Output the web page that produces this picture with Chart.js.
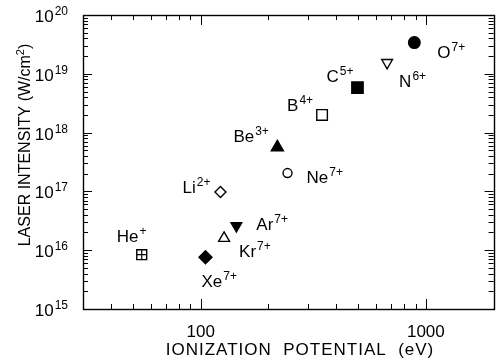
<!DOCTYPE html>
<html><head><meta charset="utf-8">
<script src="https://cdn.jsdelivr.net/npm/chart.js@4/dist/chart.umd.min.js"></script>
<style>html,body{margin:0;padding:0;background:#fff}#wrap{width:503px;height:363px}</style>
</head><body><div id="wrap"><canvas id="c" width="503" height="363"></canvas></div>
<script>
// ---- data ----
const ions = ['He','Xe','Kr','Ar','Li','Be','Ne','B','C','N','O'];
const charges = ['+','7+','7+','7+','2+','3+','7+','4+','5+','6+','7+'];
const ionizationPotentialEV = [54.7,105,127,144,122.4,219,243,346,497,673,889];
const laserIntensity = [8.4e15,7.6e15,1.6e16,2.6e16,9.8e16,5.6e17,2.05e17,2.0e18,5.8e18,1.55e19,3.4e19];
const xTickLabels = [100,1000];
const yTickExponents = [15,16,17,18,19,20];

// ---- styles (not data) ----
const markerStyle = ['rect','rectRot','triangle','triangle','rectRot','triangle','circle','rect','rect','triangle','circle'];
const markerRotation = [0,0,0,180,0,0,0,0,0,180,0];
const markerFilled = [false,true,false,true,false,true,false,false,true,false,true];
const markerRadius = [7,6.5,6.3,6.2,5.5,7,4.5,7.5,8,6.2,5.8];
// [align, dx, dy] from marker centre to label baseline
const labelPlace = [
  ['left',-25,-13],['left',-4,30],['left',15,19],['left',20,4],['right',-10,1],
  ['right',-8.5,-5.5],['left',19,10],['right',-9,-4],['right',-4,-6],['left',12,24],['left',23,15]
];
const FONT = "'Liberation Sans', Arial, Helvetica, sans-serif";

function drawSup(ctx, base, sup, x, y, align, bSize, sSize, rise) {
  ctx.font = bSize + 'px ' + FONT; const wb = ctx.measureText(base).width;
  ctx.font = sSize + 'px ' + FONT; const ws = ctx.measureText(sup).width;
  const gap = 1, total = wb + gap + ws;
  const sx = align === 'right' ? x - total : (align === 'center' ? x - total / 2 : x);
  ctx.textAlign = 'left'; ctx.textBaseline = 'alphabetic';
  ctx.font = bSize + 'px ' + FONT; ctx.fillText(base, sx, y);
  ctx.font = sSize + 'px ' + FONT; ctx.fillText(sup, sx + wb + gap, y - rise);
}

const decor = {
  id: 'decor',
  afterDraw(chart) {
    const ctx = chart.ctx, xs = chart.scales.x, ys = chart.scales.y, a = chart.chartArea;
    ctx.save();
    ctx.strokeStyle = '#000'; ctx.fillStyle = '#000';
    ctx.lineWidth = 1.4;
    ctx.strokeRect(Math.round(a.left) + 0.5, Math.round(a.top) + 0.5, Math.round(a.right - a.left), Math.round(a.bottom - a.top));
    ctx.lineWidth = 1;
    ctx.beginPath();
    const lx0 = Math.floor(Math.log10(xs.min)), lx1 = Math.ceil(Math.log10(xs.max));
    for (let e = lx0; e <= lx1; e++) for (let m = 1; m <= 9; m++) {
      const v = m * Math.pow(10, e);
      if (v < xs.min * 0.999 || v > xs.max * 1.001) continue;
      const px = Math.round(xs.getPixelForValue(v)) + 0.5, len = m === 1 ? 10 : 5;
      ctx.moveTo(px, a.bottom); ctx.lineTo(px, a.bottom - len);
      ctx.moveTo(px, a.top); ctx.lineTo(px, a.top + len);
    }
    const ly0 = Math.floor(Math.log10(ys.min)), ly1 = Math.ceil(Math.log10(ys.max));
    for (let e = ly0; e <= ly1; e++) for (let m = 1; m <= 9; m++) {
      const v = m * Math.pow(10, e);
      if (v < ys.min * 0.999 || v > ys.max * 1.001) continue;
      const py = Math.round(ys.getPixelForValue(v)) + 0.5, len = m === 1 ? 9 : 5;
      ctx.moveTo(a.left, py); ctx.lineTo(a.left + len, py);
      ctx.moveTo(a.right, py); ctx.lineTo(a.right - len, py);
    }
    ctx.stroke();
    yTickExponents.forEach(n => {
      const py = ys.getPixelForValue(Math.pow(10, n));
      drawSup(ctx, '10', String(n), 68, py + 7, 'right', 17, 12, 7);
    });
    ctx.font = '17px ' + FONT; ctx.textAlign = 'center'; ctx.textBaseline = 'alphabetic';
    xTickLabels.forEach(v => ctx.fillText(String(v), xs.getPixelForValue(v), 337));
    ctx.font = '17px ' + FONT;
    if ('letterSpacing' in ctx) ctx.letterSpacing = '1px';
    ctx.fillText('IONIZATION  POTENTIAL  (eV)', 300, 355);
    if ('letterSpacing' in ctx) ctx.letterSpacing = '0px';
    ctx.save();
    ctx.translate(30, 145); ctx.rotate(-Math.PI / 2);
    ctx.font = '16px ' + FONT;
    const t1 = 'LASER INTENSITY (W/cm', t3 = ')';
    const w1 = ctx.measureText(t1).width, w3 = ctx.measureText(t3).width;
    ctx.font = '11px ' + FONT; const w2 = ctx.measureText('2').width;
    const sx = -(w1 + w2 + w3) / 2;
    ctx.textAlign = 'left';
    ctx.font = '16px ' + FONT; ctx.fillText(t1, sx, 0);
    ctx.font = '11px ' + FONT; ctx.fillText('2', sx + w1, -6);
    ctx.font = '16px ' + FONT; ctx.fillText(t3, sx + w1 + w2, 0);
    ctx.restore();
    const meta = chart.getDatasetMeta(0);
    meta.data.forEach((pt, i) => {
      const [al, dx, dy] = labelPlace[i];
      drawSup(ctx, ions[i], charges[i], pt.x + dx, pt.y + dy, al, 17, 12, 7);
    });
    ctx.restore();
  }
};

new Chart(document.getElementById('c'), {
  type: 'scatter',
  data: {
    datasets: [{
      data: ions.map((_, i) => ({ x: ionizationPotentialEV[i], y: laserIntensity[i] })),
      pointStyle: markerStyle,
      pointRotation: markerRotation,
      pointRadius: markerRadius,
      pointBackgroundColor: markerFilled.map(f => f ? '#000' : 'rgba(0,0,0,0)'),
      pointBorderColor: '#000',
      pointBorderWidth: 1.4,
      showLine: false,
      order: 2
    }, {
      data: [{ x: ionizationPotentialEV[0], y: laserIntensity[0] }],
      pointStyle: 'cross',
      pointRadius: markerRadius[0] * Math.SQRT1_2,
      pointBorderColor: '#000',
      pointBorderWidth: 1.2,
      showLine: false,
      order: 1
    }]
  },
  options: {
    responsive: false,
    devicePixelRatio: 1,
    animation: false,
    events: [],
    layout: { padding: { left: 83, top: 15, right: 6, bottom: 54 } },
    plugins: { legend: { display: false }, tooltip: { enabled: false } },
    scales: {
      x: { type: 'logarithmic', min: 30, max: 2000, display: false },
      y: { type: 'logarithmic', min: 1e15, max: 1e20, display: false }
    }
  },
  plugins: [decor]
});
</script>
</body></html>
